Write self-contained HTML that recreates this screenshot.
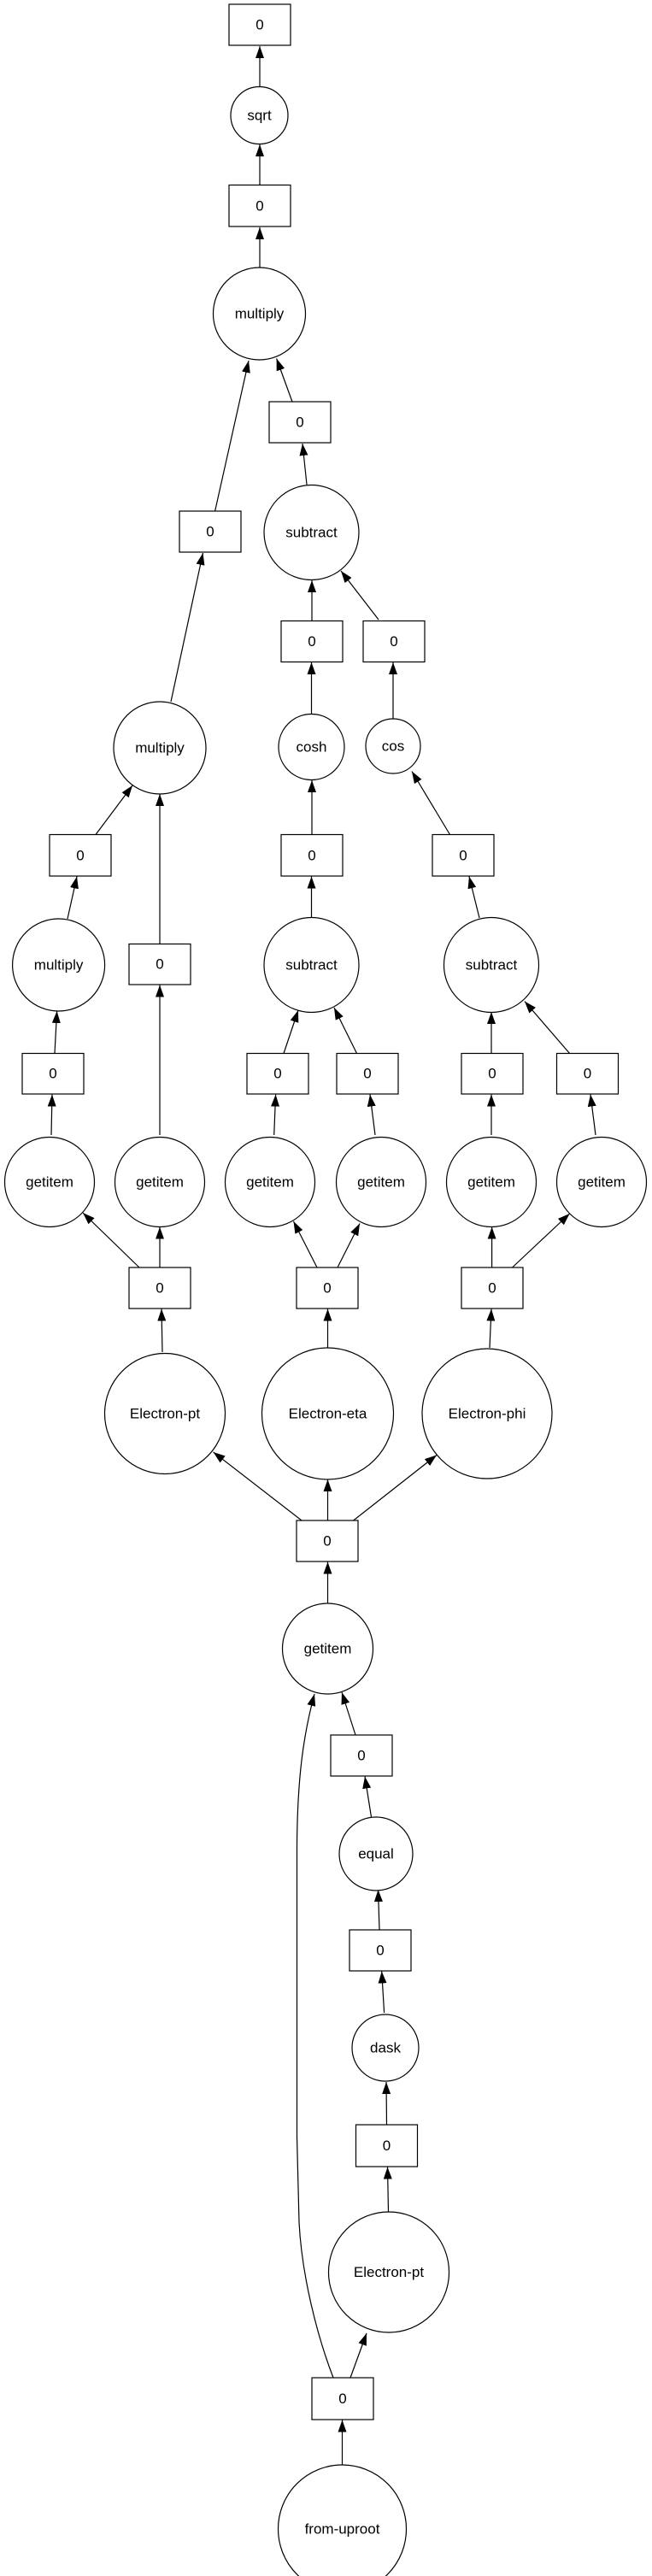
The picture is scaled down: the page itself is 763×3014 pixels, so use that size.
<!DOCTYPE html>
<html><head><meta charset="utf-8"><style>
html,body{margin:0;padding:0;background:#fff;}
svg{display:block;}
text{font-family:"Liberation Sans",Arial,sans-serif;font-size:17px;fill:#000;text-anchor:middle;dominant-baseline:central;}
.n{fill:#fff;stroke:#000;stroke-width:1.2;}
.e{stroke:#000;stroke-width:1.2;fill:none;marker-end:url(#a);}
</style></head><body>
<svg width="763" height="3014" viewBox="0 0 763 3014" xmlns="http://www.w3.org/2000/svg">
<defs><marker id="a" markerUnits="userSpaceOnUse" markerWidth="14" markerHeight="10" refX="14" refY="5" orient="auto"><path d="M0,0 L14,5 L0,10 z" fill="#000"/></marker></defs>
<line class="e" x1="304" y1="102" x2="304" y2="54"/>
<line class="e" x1="304" y1="216" x2="304" y2="169"/>
<line class="e" x1="304" y1="313" x2="304" y2="266"/>
<line class="e" x1="251.6" y1="598" x2="291" y2="422"/>
<line class="e" x1="342" y1="470" x2="323.6" y2="419.5"/>
<line class="e" x1="359" y1="567" x2="354" y2="519"/>
<line class="e" x1="365" y1="726" x2="365" y2="679"/>
<line class="e" x1="443" y1="725" x2="399" y2="668"/>
<line class="e" x1="200" y1="821" x2="237.5" y2="647"/>
<line class="e" x1="364.5" y1="835.5" x2="364.5" y2="775"/>
<line class="e" x1="460" y1="841" x2="460" y2="775"/>
<line class="e" x1="112" y1="976.5" x2="155" y2="919"/>
<line class="e" x1="187" y1="1104" x2="187" y2="929"/>
<line class="e" x1="365" y1="976" x2="365" y2="913"/>
<line class="e" x1="526.5" y1="976.5" x2="482" y2="902.5"/>
<line class="e" x1="79" y1="1075" x2="90" y2="1025.5"/>
<line class="e" x1="364.5" y1="1073" x2="364.5" y2="1025.5"/>
<line class="e" x1="561" y1="1074" x2="549" y2="1025.5"/>
<line class="e" x1="64" y1="1232.5" x2="66.6" y2="1183"/>
<line class="e" x1="332" y1="1232.5" x2="349" y2="1182"/>
<line class="e" x1="417.5" y1="1232.5" x2="391" y2="1179"/>
<line class="e" x1="575" y1="1232.5" x2="575" y2="1184"/>
<line class="e" x1="666.6" y1="1232.5" x2="614" y2="1171.6"/>
<line class="e" x1="60" y1="1328" x2="61" y2="1280.6"/>
<line class="e" x1="320.7" y1="1328" x2="322.6" y2="1280.6"/>
<line class="e" x1="439" y1="1328" x2="433" y2="1280.6"/>
<line class="e" x1="575" y1="1328" x2="575" y2="1280.6"/>
<line class="e" x1="697" y1="1328" x2="691" y2="1280.6"/>
<line class="e" x1="187" y1="1328" x2="187" y2="1152.5"/>
<line class="e" x1="163" y1="1483" x2="97" y2="1419"/>
<line class="e" x1="187" y1="1483" x2="187" y2="1435.6"/>
<line class="e" x1="371" y1="1483" x2="343.5" y2="1429"/>
<line class="e" x1="395" y1="1483" x2="421" y2="1431.5"/>
<line class="e" x1="575.6" y1="1483" x2="575.6" y2="1435.6"/>
<line class="e" x1="599.5" y1="1483" x2="666.6" y2="1420"/>
<line class="e" x1="190" y1="1582" x2="189" y2="1531.5"/>
<line class="e" x1="383.5" y1="1577" x2="383.5" y2="1531.5"/>
<line class="e" x1="573" y1="1577" x2="575" y2="1531.5"/>
<line class="e" x1="353" y1="1779" x2="249.6" y2="1699"/>
<line class="e" x1="383.5" y1="1779" x2="383.5" y2="1731"/>
<line class="e" x1="413.6" y1="1779" x2="511" y2="1702.5"/>
<line class="e" x1="383.5" y1="1876" x2="383.5" y2="1827.5"/>
<line class="e" x1="416" y1="2030" x2="400" y2="1980"/>
<line class="e" x1="434.5" y1="2126" x2="427" y2="2078.6"/>
<line class="e" x1="444" y1="2258" x2="442.5" y2="2211"/>
<line class="e" x1="449.6" y1="2355" x2="446.7" y2="2306.5"/>
<line class="e" x1="452.5" y1="2486" x2="452" y2="2436"/>
<line class="e" x1="454.5" y1="2588" x2="453.5" y2="2535.5"/>
<line class="e" x1="410" y1="2782" x2="429" y2="2730"/>
<line class="e" x1="400.5" y1="2884" x2="400.5" y2="2831.5"/>
<path class="e" d="M390,2782 C370,2730 353,2660 350,2600 L347.5,2500 L347.5,2160 C348,2080 355,2030 368,1982"/>
<rect class="n" x="268" y="5" width="72" height="48"/><text x="304" y="29">0</text>
<circle class="n" cx="303.5" cy="135" r="33.5"/><text x="303.5" y="135">sqrt</text>
<rect class="n" x="268" y="216.5" width="72" height="48.5"/><text x="304" y="241">0</text>
<circle class="n" cx="303.5" cy="367" r="54"/><text x="303.5" y="367">multiply</text>
<rect class="n" x="315" y="470" width="72" height="48"/><text x="351" y="494">0</text>
<rect class="n" x="210" y="598" width="72" height="48"/><text x="246" y="622">0</text>
<circle class="n" cx="364.5" cy="623" r="55.5"/><text x="364.5" y="623">subtract</text>
<rect class="n" x="329" y="726.5" width="72" height="48"/><text x="365" y="750.5">0</text>
<rect class="n" x="425" y="726.5" width="72" height="48"/><text x="461" y="750.5">0</text>
<circle class="n" cx="187" cy="875" r="54"/><text x="187" y="875">multiply</text>
<circle class="n" cx="364.5" cy="874" r="38.5"/><text x="364.5" y="874">cosh</text>
<circle class="n" cx="460" cy="873" r="32"/><text x="460" y="873">cos</text>
<rect class="n" x="58" y="976.5" width="72" height="48.5"/><text x="94" y="1001">0</text>
<rect class="n" x="329" y="976.5" width="72" height="48.5"/><text x="365" y="1001">0</text>
<rect class="n" x="506" y="976.5" width="72" height="48.5"/><text x="542" y="1001">0</text>
<circle class="n" cx="68.6" cy="1129" r="54"/><text x="68.6" y="1129">multiply</text>
<rect class="n" x="151" y="1104.5" width="72" height="47.5"/><text x="187" y="1128">0</text>
<circle class="n" cx="364.5" cy="1129" r="55.5"/><text x="364.5" y="1129">subtract</text>
<circle class="n" cx="575" cy="1129" r="55.5"/><text x="575" y="1129">subtract</text>
<rect class="n" x="26" y="1232.5" width="72" height="47.5"/><text x="62" y="1256">0</text>
<rect class="n" x="289" y="1232.5" width="72" height="47.5"/><text x="325" y="1256">0</text>
<rect class="n" x="394" y="1232.5" width="72" height="47.5"/><text x="430" y="1256">0</text>
<rect class="n" x="540" y="1232.5" width="72" height="47.5"/><text x="576" y="1256">0</text>
<rect class="n" x="651.5" y="1232.5" width="72" height="47.5"/><text x="687.5" y="1256">0</text>
<circle class="n" cx="58" cy="1383" r="52.5"/><text x="58" y="1383">getitem</text>
<circle class="n" cx="187" cy="1383" r="52.5"/><text x="187" y="1383">getitem</text>
<circle class="n" cx="316" cy="1383" r="52.5"/><text x="316" y="1383">getitem</text>
<circle class="n" cx="446" cy="1383" r="52.5"/><text x="446" y="1383">getitem</text>
<circle class="n" cx="575" cy="1383" r="52.5"/><text x="575" y="1383">getitem</text>
<circle class="n" cx="704" cy="1383" r="52.5"/><text x="704" y="1383">getitem</text>
<rect class="n" x="151" y="1483" width="72" height="48"/><text x="187" y="1507">0</text>
<rect class="n" x="347" y="1483" width="72" height="48"/><text x="383" y="1507">0</text>
<rect class="n" x="540" y="1483" width="72" height="48"/><text x="576" y="1507">0</text>
<circle class="n" cx="193" cy="1654" r="70.5"/><text x="193" y="1654">Electron-pt</text>
<circle class="n" cx="383.5" cy="1654" r="77"/><text x="383.5" y="1654">Electron-eta</text>
<circle class="n" cx="570" cy="1654" r="76"/><text x="570" y="1654">Electron-phi</text>
<rect class="n" x="347" y="1779" width="72" height="48"/><text x="383" y="1803">0</text>
<circle class="n" cx="383.5" cy="1929" r="53"/><text x="383.5" y="1929">getitem</text>
<rect class="n" x="387" y="2030" width="72" height="48"/><text x="423" y="2054">0</text>
<circle class="n" cx="440" cy="2169" r="43"/><text x="440" y="2169">equal</text>
<rect class="n" x="409" y="2258" width="72" height="48"/><text x="445" y="2282">0</text>
<circle class="n" cx="451" cy="2396" r="39"/><text x="451" y="2396">dask</text>
<rect class="n" x="416.5" y="2486" width="72" height="49"/><text x="452.5" y="2510.5">0</text>
<circle class="n" cx="455" cy="2658.5" r="70.5"/><text x="455" y="2658.5">Electron-pt</text>
<rect class="n" x="365" y="2782" width="72" height="49"/><text x="401" y="2806.5">0</text>
<circle class="n" cx="400.5" cy="2959" r="75"/><text x="400.5" y="2959">from-uproot</text>
</svg>
</body></html>
